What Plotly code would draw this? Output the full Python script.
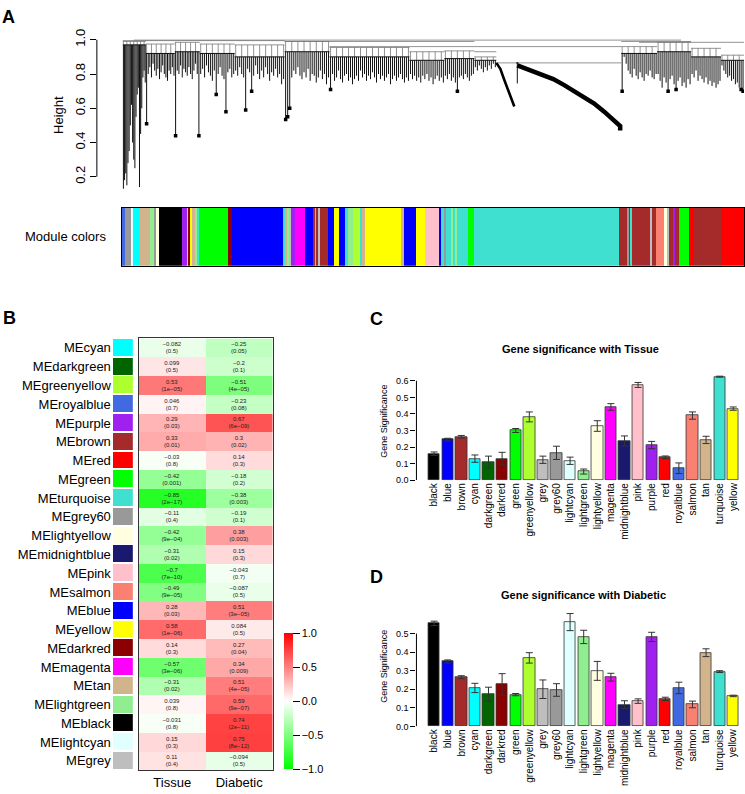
import plotly.graph_objects as go

FIG_W, FIG_H = 745, 794
FONT = "Liberation Sans, Arial, Helvetica, sans-serif"

R_HEX = {
    "black": "#000000", "blue": "#0000FF", "brown": "#A52A2A", "cyan": "#00FFFF",
    "darkgreen": "#006400", "darkred": "#8B0000", "green": "#00FF00", "greenyellow": "#ADFF2F",
    "grey": "#BEBEBE", "grey60": "#999999", "lightcyan": "#E0FFFF", "lightgreen": "#90EE90",
    "lightyellow": "#FFFFE0", "magenta": "#FF00FF", "midnightblue": "#191970", "pink": "#FFC0CB",
    "purple": "#A020F0", "red": "#FF0000", "royalblue": "#4169E1", "salmon": "#FA8072",
    "tan": "#D2B48C", "turquoise": "#40E0D0", "yellow": "#FFFF00",
}

# ---------------- Panel A data: gene dendrogram (gene order position 0..623) ----------------
dendro_group_start = [1, 24, 53, 78, 113, 163, 208, 238, 288, 323, 353, 395, 500, 536, 570, 600]
dendro_group_end = [24, 53, 78, 113, 163, 208, 238, 288, 323, 353, 375, 397, 536, 570, 600, 623]
dendro_group_top = [0.99, 0.975, 0.985, 0.975, 0.97, 0.99, 0.955, 0.955, 0.93, 0.935, 0.9,
                    0.865, 0.96, 0.985, 0.95, 0.91]
dendro_group_band = [0.97, 0.92, 0.93, 0.92, 0.9, 0.93, 0.9, 0.9, 0.88, 0.89, 0.88,
                     0.865, 0.92, 0.93, 0.9, 0.88]
dendro_group_leaves = [
    [0.13, 0.18, 0.22, 0.15, 0.28, 0.35, 0.5, 0.62, 0.4, 0.3, 0.25, 0.55, 0.68, 0.72, 0.14, 0.45,
     0.6, 0.78, 0.82, 0.75],
    [0.51, 0.8, 0.84, 0.78, 0.86, 0.82, 0.79, 0.83, 0.77, 0.81, 0.85, 0.8, 0.78, 0.76, 0.82, 0.8,
     0.84, 0.79],
    [0.44, 0.82, 0.8, 0.85, 0.78, 0.83, 0.81, 0.79, 0.84, 0.8, 0.77, 0.82, 0.86, 0.8, 0.44],
    [0.8, 0.83, 0.78, 0.85, 0.81, 0.79, 0.76, 0.82, 0.68, 0.8, 0.84, 0.79, 0.77, 0.58, 0.81, 0.83,
     0.78, 0.8],
    [0.82, 0.79, 0.84, 0.8, 0.78, 0.59, 0.83, 0.81, 0.7, 0.79, 0.85, 0.8, 0.77, 0.82, 0.78, 0.84,
     0.8, 0.76, 0.81, 0.79, 0.83, 0.78, 0.8, 0.74, 0.77],
    [0.535, 0.55, 0.6, 0.78, 0.82, 0.8, 0.84, 0.79, 0.77, 0.81, 0.78, 0.83, 0.76, 0.8, 0.79, 0.75,
     0.78, 0.82, 0.77, 0.8, 0.74, 0.78],
    [0.71, 0.8, 0.76, 0.78, 0.82, 0.77, 0.75, 0.79, 0.8, 0.76, 0.78, 0.74, 0.77, 0.79, 0.76],
    [0.82, 0.78, 0.8, 0.76, 0.79, 0.77, 0.81, 0.78, 0.75, 0.8, 0.77, 0.79, 0.76, 0.78, 0.8, 0.74,
     0.77, 0.79, 0.76, 0.78, 0.8, 0.77, 0.75, 0.78, 0.76],
    [0.8, 0.77, 0.79, 0.76, 0.78, 0.75, 0.79, 0.77, 0.8, 0.76, 0.78, 0.74, 0.77, 0.79, 0.76, 0.78,
     0.75],
    [0.79, 0.77, 0.8, 0.76, 0.78, 0.75, 0.7, 0.78, 0.79, 0.77, 0.8, 0.78, 0.76, 0.79, 0.8],
    [0.84, 0.82, 0.85, 0.83, 0.81, 0.84, 0.82, 0.85, 0.83, 0.86, 0.84],
    [0.745],
    [0.70, 0.9, 0.86, 0.82, 0.8, 0.78, 0.83, 0.79, 0.77, 0.81, 0.78, 0.76, 0.8, 0.79, 0.82, 0.78,
     0.77, 0.8],
    [0.8, 0.76, 0.72, 0.78, 0.75, 0.7, 0.77, 0.79, 0.74, 0.71, 0.76, 0.78, 0.73, 0.75, 0.72, 0.77,
     0.74],
    [0.8, 0.78, 0.82, 0.76, 0.79, 0.77, 0.75, 0.78, 0.74, 0.76, 0.73, 0.75, 0.72, 0.74, 0.76],
    [0.85, 0.82, 0.8, 0.78, 0.79, 0.76, 0.77, 0.74, 0.75, 0.72, 0.71, 0.70],
]
dendro_merge_start = [1, 12, 163, 208, 353, 375, 500, 518]
dendro_merge_end = [163, 560, 353, 500, 375, 500, 570, 623]
dendro_merge_height = [0.995, 0.998, 0.99, 0.96, 0.93, 0.865, 0.99, 0.985]
arc1_pos = [375, 379, 383, 386, 389, 391, 393]
arc1_height = [0.865, 0.83, 0.765, 0.72, 0.68, 0.645, 0.61]
arc2_pos = [396, 408, 420, 432, 443, 453, 463, 473, 483, 491, 499, 499]
arc2_height = [0.85, 0.825, 0.80, 0.77, 0.735, 0.70, 0.668, 0.628, 0.58, 0.54, 0.496, 0.47]
height_ticks = [0.2, 0.4, 0.6, 0.8, 1.0]

# Module colour strip (colour, right edge in gene order position)
module_colors = [
    "royalblue", "grey60", "lightcyan", "cyan", "tan", "lightgreen", "grey60", "lightyellow",
    "black", "purple", "greenyellow", "darkred", "yellow", "tan", "lightgreen", "turquoise",
    "green", "darkred", "blue", "turquoise", "tan", "lightgreen", "grey", "purple", "magenta",
    "blue", "brown", "tan", "brown", "grey", "brown", "blue", "yellow", "blue", "turquoise",
    "lightgreen", "greenyellow", "turquoise", "tan", "yellow", "tan", "blue", "yellow", "pink",
    "blue", "turquoise", "grey60", "turquoise", "lightgreen", "turquoise", "lightgreen",
    "turquoise", "green", "turquoise", "brown", "grey60", "brown", "turquoise", "brown", "grey",
    "brown", "salmon", "lightyellow", "grey", "brown", "purple", "brown", "green", "red", "brown",
    "red",
]
module_ends = [
    2.5, 9.5, 11, 18, 28, 32, 34.5, 37, 59.7, 64.7, 67, 68, 70.5, 73, 75, 77, 106.3, 109.7,
    161.3, 163.5, 165.5, 167.5, 169.5, 173, 183, 191.3, 193, 195, 196.5, 198, 206.3, 212.3,
    217.3, 223, 226.3, 231.3, 238, 241.3, 243, 279.7, 282.3, 294.7, 303, 317.3, 319.7, 323,
    324.5, 330, 331.3, 334, 335.3, 346.3, 352, 498, 506, 507.5, 509.5, 511, 529.7, 531, 534.7,
    543, 546, 547.3, 551.3, 554, 557.3, 567.3, 573, 599.7, 623,
]

# ---------------- Panel B data: module-trait relationships ----------------
me_rows = ["MEcyan", "MEdarkgreen", "MEgreenyellow", "MEroyalblue", "MEpurple", "MEbrown",
           "MEred", "MEgreen", "MEturquoise", "MEgrey60", "MElightyellow", "MEmidnightblue",
           "MEpink", "MEsalmon", "MEblue", "MEyellow", "MEdarkred", "MEmagenta", "MEtan",
           "MElightgreen", "MEblack", "MElightcyan", "MEgrey"]
traits = ["Tissue", "Diabetic"]
tissue_cor = [-0.082, 0.099, 0.53, 0.046, 0.29, 0.33, -0.03, -0.42, -0.85, -0.11, -0.42, -0.31,
              -0.7, -0.49, 0.28, 0.58, 0.14, -0.57, -0.31, 0.039, -0.031, 0.15, 0.11]
tissue_p = ["0.5", "0.5", "1e-05", "0.7", "0.03", "0.01", "0.8", "0.001", "2e-17", "0.4",
            "9e-04", "0.02", "7e-10", "9e-05", "0.03", "1e-06", "0.3", "3e-06", "0.02", "0.8",
            "0.8", "0.3", "0.4"]
diabetic_cor = [-0.25, -0.2, -0.51, -0.23, 0.67, 0.3, 0.14, -0.18, -0.38, -0.19, 0.38, 0.15,
                -0.043, -0.087, 0.51, 0.084, 0.27, 0.34, 0.51, 0.59, 0.74, 0.75, -0.094]
diabetic_p = ["0.05", "0.1", "4e-05", "0.08", "6e-09", "0.02", "0.3", "0.2", "0.003", "0.1",
              "0.003", "0.3", "0.7", "0.5", "3e-05", "0.5", "0.04", "0.009", "4e-05", "9e-07",
              "2e-11", "8e-12", "0.5"]
colorbar_ticks = [-1.0, -0.5, 0.0, 0.5, 1.0]

# ---------------- Panels C, D data: gene significance per module ----------------
modules = ["black", "blue", "brown", "cyan", "darkgreen", "darkred", "green", "greenyellow",
           "grey", "grey60", "lightcyan", "lightgreen", "lightyellow", "magenta", "midnightblue",
           "pink", "purple", "red", "royalblue", "salmon", "tan", "turquoise", "yellow"]
gs_tissue = [0.16, 0.245, 0.262, 0.13, 0.11, 0.13, 0.30, 0.382, 0.123, 0.165, 0.117, 0.052,
             0.327, 0.442, 0.237, 0.575, 0.212, 0.138, 0.072, 0.39, 0.243, 0.625, 0.432]
gs_tissue_err = [0.01, 0.008, 0.008, 0.022, 0.035, 0.038, 0.012, 0.03, 0.022, 0.04, 0.022,
                 0.015, 0.032, 0.02, 0.03, 0.015, 0.022, 0.008, 0.032, 0.022, 0.022, 0.003, 0.01]
gs_diabetic = [0.555, 0.35, 0.265, 0.207, 0.173, 0.226, 0.171, 0.369, 0.20, 0.196, 0.562, 0.482,
               0.299, 0.265, 0.117, 0.136, 0.482, 0.148, 0.207, 0.118, 0.397, 0.295, 0.164]
gs_diabetic_err = [0.012, 0.008, 0.008, 0.025, 0.038, 0.058, 0.006, 0.028, 0.05, 0.034, 0.046,
                   0.036, 0.051, 0.021, 0.021, 0.012, 0.025, 0.009, 0.031, 0.018, 0.021, 0.005,
                   0.004]
gs_ticks_tissue = [0.0, 0.1, 0.2, 0.3, 0.4, 0.5, 0.6]
gs_ticks_diabetic = [0.0, 0.1, 0.2, 0.3, 0.4, 0.5]


def fx(X):
    return X / FIG_W


def fy(Y):
    return 1 - Y / FIG_H


fig = go.Figure()

# ---- A: dendrogram ----
dx, dy = [], []      # dense lower branches (dark)
ux, uy = [], []      # upper tree structure (lighter)
for x0, x1, top, band, leaves in zip(dendro_group_start, dendro_group_end, dendro_group_top,
                                     dendro_group_band, dendro_group_leaves):
    ux += [x0, x1, None]
    uy += [top, top, None]
    dx += [x0, x1, None]
    dy += [band, band, None]
    step = (x1 - x0) / len(leaves)
    for i, h in enumerate(leaves):
        xp = x0 + (i + 0.5) * step
        dx += [xp, xp, None]
        dy += [band, h, None]
        if i % 3 == 0 and band < top:
            ux += [xp, xp, None]
            uy += [top, band, None]
for x0, x1, h in zip(dendro_merge_start, dendro_merge_end, dendro_merge_height):
    ux += [x0, x1, None]
    uy += [h, h, None]
fig.add_trace(go.Scatter(x=ux, y=uy, mode="lines", line=dict(color="#777777", width=0.8),
                         xaxis="x", yaxis="y", hoverinfo="skip", showlegend=False))
fig.add_trace(go.Scatter(x=dx, y=dy, mode="lines", line=dict(color="#111111", width=1.0),
                         xaxis="x", yaxis="y", hoverinfo="skip", showlegend=False))
# small dense sub-clusters at the tips of the long drops
bx, by = [], []
for gi, (x0, x1, leaves) in enumerate(zip(dendro_group_start, dendro_group_end,
                                          dendro_group_leaves)):
    if gi == 0:
        continue
    step = (x1 - x0) / len(leaves)
    for i, h in enumerate(leaves):
        if 0.4 < h < 0.72:
            bx.append(x0 + (i + 0.5) * step)
            by.append(h)
fig.add_trace(go.Scatter(x=bx, y=by, mode="markers",
                         marker=dict(symbol="square", size=3.5, color="black"),
                         xaxis="x", yaxis="y", hoverinfo="skip", showlegend=False))
fig.add_trace(go.Scatter(x=arc1_pos, y=arc1_height, mode="lines",
                         line=dict(color="black", width=2.6), xaxis="x", yaxis="y",
                         hoverinfo="skip", showlegend=False))
fig.add_trace(go.Scatter(x=arc2_pos, y=arc2_height, mode="lines",
                         line=dict(color="black", width=4.5), xaxis="x", yaxis="y",
                         hoverinfo="skip", showlegend=False))

# ---- A: module colour strip ----
m_left = [0] + module_ends[:-1]
fig.add_trace(go.Bar(
    x=[(a + b) / 2 for a, b in zip(m_left, module_ends)],
    y=[1] * len(module_ends),
    width=[b - a for a, b in zip(m_left, module_ends)],
    marker=dict(color=[R_HEX[c] for c in module_colors], line=dict(width=0)),
    xaxis="x2", yaxis="y2", hoverinfo="skip", showlegend=False))

# ---- B: colour squares + heatmap ----
n_rows = len(me_rows)
fig.add_trace(go.Bar(
    y=list(range(n_rows)), x=[1] * n_rows, orientation="h", width=0.9,
    marker=dict(color=[R_HEX[r[2:]] for r in me_rows], line=dict(width=0)),
    xaxis="x3", yaxis="y3", hoverinfo="skip", showlegend=False))


def fmt(v):
    return f"{v:g}".replace("-", "\u2212")


z = [[t, d] for t, d in zip(tissue_cor, diabetic_cor)]
txt = [[f"{fmt(t)}<br>({tp.replace('-', chr(8722))})",
        f"{fmt(d)}<br>({dp.replace('-', chr(8722))})"]
       for t, d, tp, dp in zip(tissue_cor, diabetic_cor, tissue_p, diabetic_p)]
fig.add_trace(go.Heatmap(
    z=z, x=[0, 1], y=list(range(n_rows)), text=txt, texttemplate="%{text}",
    textfont=dict(size=6, color="#222222", family=FONT),
    zmin=-1, zmax=1,
    colorscale=[[0, "#00FF00"], [0.5, "#FFFFFF"], [1, "#FF0000"]],
    xaxis="x4", yaxis="y4", hoverinfo="skip",
    colorbar=dict(x=fx(284), xanchor="left", xpad=0, ypad=0, y=fy(705), yanchor="middle",
                  lenmode="pixels", len=136, thickness=9, outlinewidth=0,
                  ticks="outside", ticklen=7, tickcolor="black",
                  tickvals=colorbar_ticks,
                  ticktext=[f"{v:.1f}".replace("-", "\u2212") for v in colorbar_ticks],
                  tickfont=dict(size=11, family=FONT, color="black")),
))

# ---- C and D: bar charts ----
xpos = list(range(len(modules)))
bar_colors = [R_HEX[m] for m in modules]
for vals, errs, xa, ya in [(gs_tissue, gs_tissue_err, "x5", "y5"),
                           (gs_diabetic, gs_diabetic_err, "x6", "y6")]:
    fig.add_trace(go.Bar(
        x=xpos, y=vals, width=0.833,
        marker=dict(color=bar_colors, line=dict(color="#333333", width=0.8)),
        error_y=dict(type="data", array=errs, visible=True, color="#333333",
                     thickness=1, width=3.5),
        xaxis=xa, yaxis=ya, hoverinfo="skip", showlegend=False))

hidden = dict(visible=False, showgrid=False, zeroline=False)
axfont = dict(family=FONT, color="black")
layout = dict(
    width=FIG_W, height=FIG_H, margin=dict(l=0, r=0, t=0, b=0),
    paper_bgcolor="white", plot_bgcolor="rgba(0,0,0,0)",
    font=dict(family=FONT, color="black"), showlegend=False, bargap=0,
    # A dendrogram
    xaxis=dict(domain=[fx(97), fx(745)], range=[-25, 623], anchor="y", **hidden),
    yaxis=dict(domain=[fy(189), fy(28.8)], range=[0.1, 1.02], anchor="x", showgrid=False,
               zeroline=False, showline=False, ticks="outside", ticklen=6, tickcolor="black",
               tickvals=height_ticks, ticktext=[f"{v:.1f}" for v in height_ticks],
               tickangle=-90, tickfont=dict(size=13, **axfont),
               title=dict(text="Height", font=dict(size=13, **axfont), standoff=6)),
    # A strip
    xaxis2=dict(domain=[fx(122), fx(745)], range=[0, 623], anchor="y2", showticklabels=False,
                ticks="", showgrid=False, zeroline=False, showline=True, mirror=True,
                linecolor="black", linewidth=1),
    yaxis2=dict(domain=[fy(262), fy(203)], range=[0, 1], anchor="x2", showticklabels=False,
                ticks="", showgrid=False, zeroline=False, showline=True, mirror=True,
                linecolor="black", linewidth=1),
    # B squares
    xaxis3=dict(domain=[fx(113), fx(133)], range=[0, 1], anchor="y3", **hidden),
    yaxis3=dict(domain=[fy(775), fy(336)], range=[n_rows - 0.5, -0.5], anchor="x3",
                showgrid=False, zeroline=False, showline=False, ticks="",
                tickvals=list(range(n_rows)), ticktext=me_rows,
                tickfont=dict(size=13, **axfont), ticklabelstandoff=1),
    # B heatmap
    xaxis4=dict(domain=[fx(139), fx(273)], range=[-0.5, 1.5], anchor="y4", tickvals=[0, 1],
                ticktext=traits, ticks="", tickfont=dict(size=13, **axfont), showgrid=False,
                zeroline=False, showline=True, mirror=True, linecolor="#333333", linewidth=1),
    yaxis4=dict(domain=[fy(775), fy(336)], range=[n_rows - 0.5, -0.5], anchor="x4",
                showticklabels=False, ticks="", showgrid=False, zeroline=False, showline=True,
                mirror=True, linecolor="#333333", linewidth=1),
    # C
    xaxis5=dict(domain=[fx(417), fx(745)], range=[-1.3, 22.79], anchor="y5", tickvals=xpos,
                ticktext=modules, tickangle=-90, ticks="", tickfont=dict(size=10, **axfont),
                showgrid=False, zeroline=False, showline=False),
    yaxis5=dict(domain=[fy(480), fy(360)], range=[0, 0.713], anchor="x5",
                tickvals=gs_ticks_tissue, ticktext=[f"{v:.1f}" for v in gs_ticks_tissue],
                ticks="outside", ticklen=5, tickcolor="black", tickfont=dict(size=9, **axfont),
                showgrid=False, zeroline=False, showline=False,
                title=dict(text="Gene Significance", font=dict(size=9, **axfont), standoff=6)),
    # D
    xaxis6=dict(domain=[fx(417), fx(745)], range=[-1.3, 22.79], anchor="y6", tickvals=xpos,
                ticktext=modules, tickangle=-90, ticks="", tickfont=dict(size=10, **axfont),
                showgrid=False, zeroline=False, showline=False),
    yaxis6=dict(domain=[fy(730.3), fy(608)], range=[0, 0.6485], anchor="x6",
                tickvals=gs_ticks_diabetic, ticktext=[f"{v:.1f}" for v in gs_ticks_diabetic],
                ticks="outside", ticklen=5, tickcolor="black", tickfont=dict(size=9, **axfont),
                showgrid=False, zeroline=False, showline=False,
                title=dict(text="Gene Significance", font=dict(size=9, **axfont), standoff=6)),
)
fig.update_layout(**layout)

# R-style axis lines spanning only the tick range
fig.add_shape(type="line", xref="paper", yref="y", x0=fx(97), x1=fx(97),
              y0=height_ticks[0], y1=height_ticks[-1], line=dict(color="black", width=1))
fig.add_shape(type="line", xref="paper", yref="y5", x0=fx(417), x1=fx(417),
              y0=gs_ticks_tissue[0], y1=gs_ticks_tissue[-1], line=dict(color="black", width=1))
fig.add_shape(type="line", xref="paper", yref="y6", x0=fx(417), x1=fx(417),
              y0=gs_ticks_diabetic[0], y1=gs_ticks_diabetic[-1], line=dict(color="black", width=1))

annots = [
    dict(text="<b>A</b>", x=fx(9), y=fy(9), size=18),
    dict(text="<b>B</b>", x=fx(10), y=fy(315), size=18),
    dict(text="<b>C</b>", x=fx(377), y=fy(316), size=18),
    dict(text="<b>D</b>", x=fx(377), y=fy(578), size=18),
    dict(text="<b>Gene significance with Tissue</b>", x=fx(581), y=fy(347), size=11),
    dict(text="<b>Gene significance with Diabetic</b>", x=fx(584), y=fy(597), size=11),
]
for a in annots:
    fig.add_annotation(text=a["text"], x=a["x"], y=a["y"], xref="paper", yref="paper",
                       xanchor="center", yanchor="middle", showarrow=False,
                       font=dict(size=a["size"], family=FONT, color="black"))
fig.add_annotation(text="Module colors", x=fx(108), y=fy(232), xref="paper", yref="paper",
                   xanchor="right", yanchor="middle", showarrow=False,
                   font=dict(size=13, family=FONT, color="black"))

fig.write_html("out.html", config={"displayModeBar": False},
               post_script="document.body.style.margin='0px';"
                           "document.body.style.overflow='hidden';")
